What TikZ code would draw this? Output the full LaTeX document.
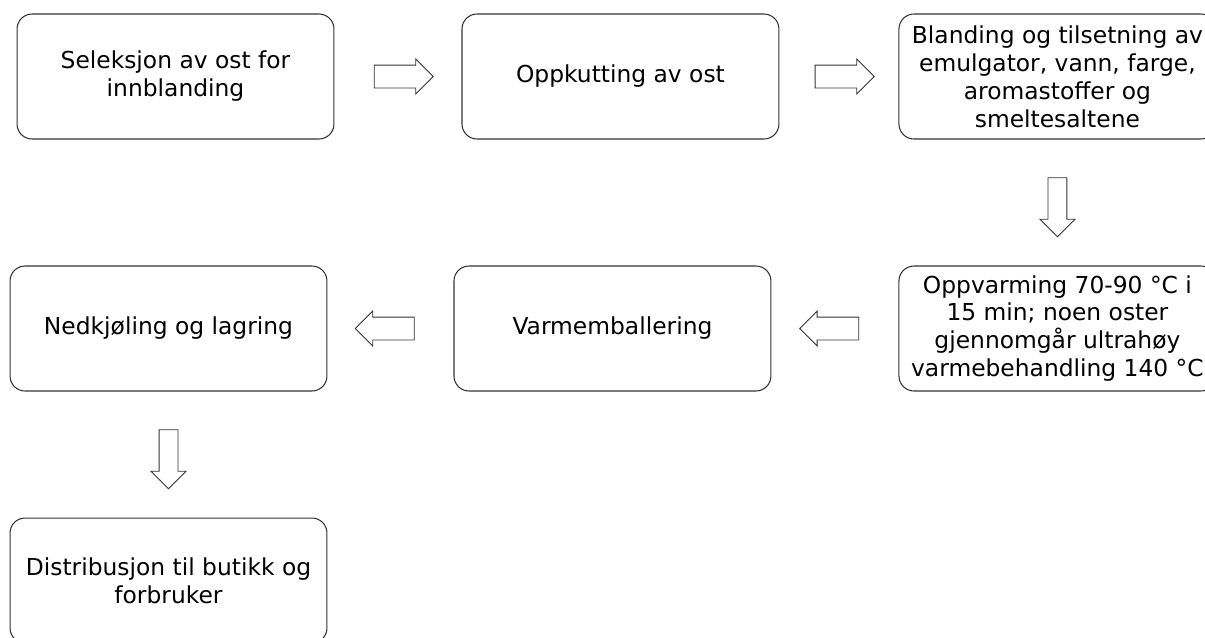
\documentclass[tikz,border=0pt]{standalone}
\usepackage{fontspec}
\setmainfont{DejaVu Sans}
\usetikzlibrary{positioning,shapes.arrows,calc}

\begin{document}
\begin{tikzpicture}[x=0.02cm,y=-0.02cm,
  stage/.style={rectangle, draw=black!80, rounded corners=0.3cm, minimum width=6.34cm,
    minimum height=2.5cm, inner sep=0pt, align=center, line width=0.6pt,
    font=\fontsize{13.3pt}{15.9pt}\selectfont},
  flow/.style={single arrow, draw=black!80, line width=0.5pt, inner xsep=0pt,
    inner ysep=0.22cm, minimum height=1.18cm, single arrow head extend=0.12cm,
    single arrow tip angle=90},
  flowdown/.style={flow, rotate=-90, inner ysep=0.18cm, single arrow head extend=0.16cm}
]
  \useasboundingbox (0,0) rectangle (1205,637);
  \node[stage] (select) at (175.5,76.5) {Seleksjon av ost for\\innblanding};
  \node[stage, right=2.54cm of select] (cut) {Oppkutting av ost};
  \node[stage, right=2.38cm of cut] (mix) {Blanding og tilsetning av\\emulgator, vann, farge,\\aromastoffer og\\smeltesaltene};
  \node[stage, below=2.52cm of mix] (heat) {Oppvarming 70-90 °C i\\15 min; noen oster\\gjennomgår ultrahøy\\varmebehandling 140 °C};
  \node[stage, left=2.54cm of heat] (pack) {Varmemballering};
  \node[stage, left=2.52cm of pack] (cool) {Nedkjøling og lagring};
  \node[stage, below=2.52cm of cool] (ship) {Distribusjon til butikk og\\forbruker};

  \node[flow] (f1) at ($(select.east)!0.5!(cut.west)$) {};
  \node[flow] (f2) at ($(cut.east)!0.5!(mix.west)$) {};
  \node[flowdown] (f3) at ($(mix.south)!0.5!(heat.north)$) {};
  \node[flow, rotate=180] (f4) at ($(heat.west)!0.5!(pack.east)$) {};
  \node[flow, rotate=180] (f5) at ($(pack.west)!0.5!(cool.east)$) {};
  \node[flowdown] (f6) at ($(cool.south)!0.5!(ship.north)$) {};
\end{tikzpicture}
\end{document}
